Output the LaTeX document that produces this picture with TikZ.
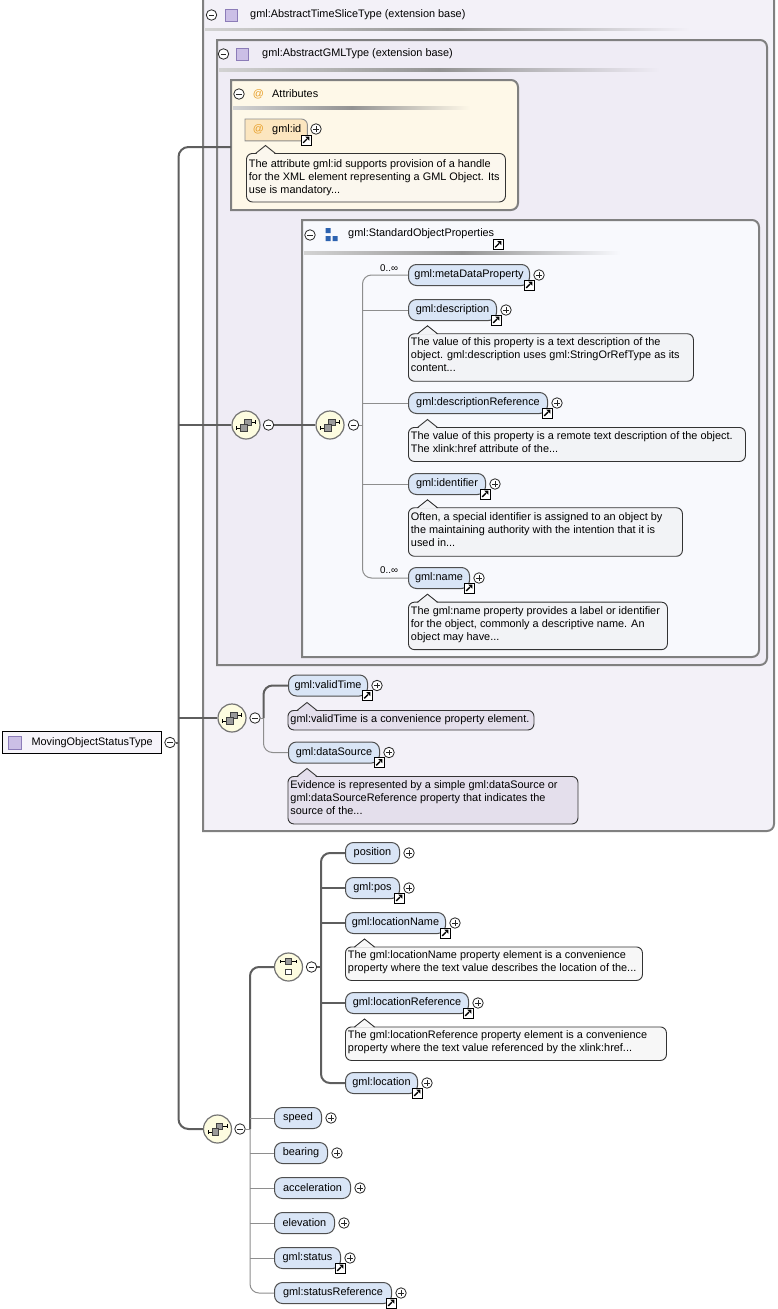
\documentclass[tikz,border=0pt]{standalone}
\usepackage{fontspec}
\setmainfont{Liberation Sans}
\usetikzlibrary{calc,positioning}

\definecolor{outerfill}{HTML}{F3F1F8}
\definecolor{innerfill}{HTML}{EFECF5}
\definecolor{attrfill}{HTML}{FEF8E8}
\definecolor{sopfill}{HTML}{F8F9FD}
\definecolor{elemfill}{HTML}{D9E5F6}
\definecolor{idfill}{HTML}{FCE6BF}
\definecolor{descA}{HTML}{FBF7EE}
\definecolor{descS}{HTML}{F2F3F6}
\definecolor{descO}{HTML}{E4DFEC}
\definecolor{descW}{HTML}{F7F7F7}
\definecolor{seqfill}{HTML}{FDFCE0}
\definecolor{boxline}{HTML}{808080}
\definecolor{trunkcol}{HTML}{5E5E5E}
\definecolor{twigcol}{HTML}{8E8E8E}
\definecolor{elemline}{HTML}{4F4F4F}
\definecolor{descline}{HTML}{333333}
\definecolor{typefill}{HTML}{CBBFE6}
\definecolor{typeline}{HTML}{8C7CB8}
\definecolor{atcol}{HTML}{E8A02A}
\definecolor{grpblue}{HTML}{2C62B0}
\definecolor{symgray}{HTML}{9A9A9A}
\definecolor{mainfill}{HTML}{F6F4FA}

\newcommand{\xsdfont}{\fontsize{10.9}{13}\selectfont}
\newcommand{\cardfont}{\fontsize{9.8}{11}\selectfont}

\tikzset{
  trunk/.style={draw=trunkcol, line width=2},
  twig/.style={draw=twigcol, line width=1},
  btn/.style={circle, draw=black!85, fill=white, minimum size=10.5, inner sep=0, line width=0.8},
  colbtn/.style={btn, path picture={\draw[line width=0.9] ([xshift=-2.8]path picture bounding box.center) -- ([xshift=2.8]path picture bounding box.center);}},
  expbtn/.style={btn, path picture={\draw[line width=0.9] ([xshift=-2.8]path picture bounding box.center) -- ([xshift=2.8]path picture bounding box.center) ([yshift=-2.8]path picture bounding box.center) -- ([yshift=2.8]path picture bounding box.center);}},
  elem/.style={draw=elemline, fill=elemfill, rounded corners=8, line width=1, minimum height=21, inner sep=0, anchor=west},
  desc/.style={draw=descline, rounded corners=6, line width=0.9, anchor=north west, inner xsep=2.5, inner ysep=0},
  lnkbox/.style={rectangle, draw=black, fill=white, minimum size=10, inner sep=0, line width=0.9},
  seqicon/.style={circle, draw=black!55, fill=seqfill, minimum size=28, inner sep=0, line width=1.2},
  typebox/.style={rectangle, draw=typeline, fill=typefill, minimum size=12, inner sep=0, line width=0.8},
  headtxt/.style={anchor=west, inner sep=0},
}

% box with rounded right corners: x1,y1,x2,y2,fill
\newcommand{\rbox}[5]{\filldraw[draw=boxline, line width=2, fill=#5] (#1,#2) -- ({#3-7},#2) .. controls ({#3-3.1},#2) and (#3,{#2+3.1}) .. (#3,{#2+7}) -- (#3,{#4-7}) .. controls (#3,{#4-3.1}) and ({#3-3.1},#4) .. ({#3-7},#4) -- (#1,#4) -- cycle;}

% description text of fixed width, lines never wrapped
\newcommand{\dtext}[3][2pt]{\makebox[#2pt][l]{\begin{tabular}{@{}l@{}}#3\\[#1]\end{tabular}}}

\newcommand{\elnode}[5]{%
  \node[elem, minimum width=#4] (#1) at (#2,#3) {#5};
  \node[expbtn] (#1-x) at ([xshift=9]#1.east) {};}

\newcommand{\lnkicon}[2]{%
  \node[lnkbox] (#1) at (#2) {};
  \begin{scope}[shift={(#1.center)}, x=1pt, y=1pt]
    \draw[line width=1.4] (-2.8,-2.8) -- (1,1);
    \fill (3.3,3.3) -- (-0.7,3.3) -- (3.3,-0.7) -- cycle;
  \end{scope}}
\newcommand{\lnk}[1]{\lnkicon{#1-l}{[xshift=-1,yshift=1]#1.south east}}

\newcommand{\notch}[2]{%
  \fill[#2] ([xshift=10,yshift=-1.2]#1.north west) -- ([xshift=19.5,yshift=7]#1.north west) -- ([xshift=29,yshift=-1.2]#1.north west) -- cycle;
  \draw[descline, line width=0.9] ([xshift=9.5,yshift=-0.5]#1.north west) -- ([xshift=19.5,yshift=7.5]#1.north west) -- ([xshift=29.5,yshift=-0.5]#1.north west);}

\newcommand{\seqsym}[1]{%
  \begin{scope}[shift={(#1.center)}, x=1pt, y=1pt, line width=0.7]
    \draw (-9.5,-3) -- (-4,-3) (-9.5,-4.6) -- (-9.5,-1.4);
    \draw (4,3) -- (9.5,3) (9.5,1.4) -- (9.5,4.6);
    \filldraw[fill=symgray, draw=black!75] (-1.5,-0.5) rectangle (5,6);
    \filldraw[fill=symgray, draw=black!75] (-5.5,-6) rectangle (1,0.5);
  \end{scope}}

\newcommand{\choicesym}[1]{%
  \begin{scope}[shift={(#1.center)}, x=1pt, y=1pt, line width=0.7]
    \draw (-8,5.5) -- (8,5.5) (-8,4) -- (-8,7) (8,4) -- (8,7);
    \filldraw[fill=symgray, draw=black!75] (-3,2.5) rectangle (3,8.5);
    \filldraw[fill=white, draw=black!75] (-2.8,-7.5) rectangle (2.8,-1.9);
  \end{scope}}

\begin{document}
\begin{tikzpicture}[x=1pt, y=-1pt, font=\xsdfont]
\useasboundingbox (0,0) rectangle (777,1309);
\clip (0,0) rectangle (777,1309);

% nested type boxes
\rbox{203}{-10}{774}{831}{outerfill}
\rbox{217}{40}{767}{665}{innerfill}
\rbox{231}{80}{518}{210}{attrfill}
\rbox{302}{220}{759}{657}{sopfill}

\shade[left color=boxline!35, right color=outerfill, middle color=boxline!85] (205,28) rectangle (690,30.5);
\shade[left color=boxline!35, right color=innerfill, middle color=boxline!85] (219,68.5) rectangle (660,71);
\shade[left color=boxline!35, right color=attrfill, middle color=boxline!85] (233,106.5) rectangle (470,109);
\shade[left color=boxline!35, right color=sopfill, middle color=boxline!85] (304,251.5) rectangle (620,254);

% headers
\node[colbtn] (tsl-x) at (211.5,15) {};
\node[typebox] (tsl-sq) at (231.5,15) {};
\node[headtxt] (tsl) at (250,15) {gml:AbstractTimeSliceType (extension base)};

\node[colbtn] (gml-x) at (223.5,54) {};
\node[typebox] (gml-sq) at (242.5,54) {};
\node[headtxt] (gml) at (262,54) {gml:AbstractGMLType (extension base)};

\node[colbtn] (att-x) at (239,94) {};
\node[inner sep=0, text=atcol] (att-at) at (258.5,94) {@};
\node[headtxt] (att) at (272,94) {Attributes};

% attribute gml:id
\node[inner sep=0, minimum width=62, minimum height=21.5, anchor=north west] (gid) at (245,119) {};
\filldraw[draw=black!45, fill=idfill, line width=0.9] (gid.south west) -- (gid.north west) -- ([xshift=-6]gid.north east) .. controls ([xshift=-2.7]gid.north east) and ([yshift=-2.7]gid.north east) .. ([yshift=-6]gid.north east) -- (gid.south east) -- cycle;
\node[inner sep=0, text=atcol] (gid-at) at (258.5,129.5) {@};
\node[headtxt] (gid-t) at (272,129.5) {gml:id};
\node[expbtn] (gid-x) at (316,129) {};
\lnkicon{gid-l}{306,140}
\node[desc, fill=descA, minimum height=48.5] (gid-d) at (246,153) {\dtext[0pt]{254}{The attribute gml:id supports provision of a handle\\for the XML element representing a GML Object. Its\\use is mandatory...}};
\notch{gid-d}{descA}

% gml:StandardObjectProperties
\node[colbtn] (sop-x) at (310,235) {};
\fill[grpblue] (325.5,228) rectangle (330.5,233) (325.5,236) rectangle (330.5,241) (332.5,236) rectangle (337.5,241);
\node[headtxt] (sop) at (348,234) {gml:StandardObjectProperties};
\lnkicon{sop-l}{498,244.5}

\node[headtxt, font=\cardfont] (meta-m) at (380,268) {0..∞};
\elnode{e-meta}{408}{275}{121}{gml:metaDataProperty} \lnk{e-meta}
\elnode{e-descr}{408}{310}{88}{gml:description} \lnk{e-descr}
\node[desc, fill=descS, minimum height=47.5] (d-descr) at (408,333.3) {\dtext[4pt]{280}{The value of this property is a text description of the\\object. gml:description uses gml:StringOrRefType as its\\content...}};
\notch{d-descr}{descS}
\elnode{e-dref}{408}{403}{139}{gml:descriptionReference} \lnk{e-dref}
\node[desc, fill=descS, minimum height=34] (d-dref) at (408,427) {\dtext{332}{The value of this property is a remote text description of the object.\\The xlink:href attribute of the...}};
\notch{d-dref}{descS}
\elnode{e-ident}{408}{484}{77}{gml:identifier} \lnk{e-ident}
\node[desc, fill=descS, minimum height=48.5] (d-ident) at (408,507.3) {\dtext{269}{Often, a special identifier is assigned to an object by\\the maintaining authority with the intention that it is\\used in...}};
\notch{d-ident}{descS}
\node[headtxt, font=\cardfont] (name-m) at (380,570) {0..∞};
\elnode{e-name}{408}{578}{61}{gml:name} \lnk{e-name}
\node[desc, fill=descS, minimum height=47.5] (d-name) at (408,601.7) {\dtext{254}{The gml:name property provides a label or identifier\\for the object, commonly a descriptive name. An\\object may have...}};
\notch{d-name}{descS}

% validTime / dataSource
\elnode{e-vtime}{288}{685.5}{79}{gml:validTime} \lnk{e-vtime}
\node[desc, fill=descO, minimum height=19.5] (d-vtime) at (287.5,710) {\dtext[0pt]{241}{gml:validTime is a convenience property element.}};
\notch{d-vtime}{descO}
\elnode{e-dsrc}{288}{752.5}{91}{gml:dataSource} \lnk{e-dsrc}
\node[desc, fill=descO, minimum height=47.5] (d-dsrc) at (287.5,776) {\dtext{285}{Evidence is represented by a simple gml:dataSource or\\gml:dataSourceReference property that indicates the\\source of the...}};
\notch{d-dsrc}{descO}

% choice of location
\elnode{e-posn}{345}{853}{54}{position}
\elnode{e-gpos}{345}{888}{54}{gml:pos} \lnk{e-gpos}
\elnode{e-lname}{345}{923}{100}{gml:locationName} \lnk{e-lname}
\node[desc, fill=descW, minimum height=33.5] (d-lname) at (345,946.5) {\dtext{292}{The gml:locationName property element is a convenience\\property where the text value describes the location of the...}};
\notch{d-lname}{descW}
\elnode{e-lref}{345}{1003}{123}{gml:locationReference} \lnk{e-lref}
\node[desc, fill=descW, minimum height=33.5] (d-lref) at (345,1026.5) {\dtext{316}{The gml:locationReference property element is a convenience\\property where the text value referenced by the xlink:href...}};
\notch{d-lref}{descW}
\elnode{e-loc}{345}{1083}{72}{gml:location} \lnk{e-loc}

% remaining sequence
\foreach \nm/\yy/\ww/\tx in {speed/1118/47/speed, bear/1153/53/bearing, accel/1188/76/acceleration, elev/1223/60/elevation, stat/1258/66/gml:status, sref/1293/117/gml:statusReference}
  {\elnode{e-\nm}{274}{\yy}{\ww}{\tx}}
\lnk{e-stat} \lnk{e-sref}

% compositors
\node[seqicon] (seq1) at (246,425) {}; \seqsym{seq1}
\node[colbtn] (seq1-x) at (268.5,425) {};
\node[seqicon] (seq2) at (330,425) {}; \seqsym{seq2}
\node[colbtn] (seq2-x) at (353.5,425) {};
\node[seqicon] (seq3) at (232,718) {}; \seqsym{seq3}
\node[colbtn] (seq3-x) at (255,718) {};
\node[seqicon] (chc) at (288.5,967) {}; \choicesym{chc}
\node[colbtn] (chc-x) at (311.5,967) {};
\node[seqicon] (seq4) at (217.5,1129) {}; \seqsym{seq4}
\node[colbtn] (seq4-x) at (240,1129) {};

\coordinate (bus2) at (362.5,425);
\coordinate (bus3) at (263.5,718);
\coordinate (bus5) at (321,967);
\coordinate (bus4) at (250,1129);

% root
\node[draw=black, line width=1.2, fill=mainfill, anchor=west, minimum width=159, minimum height=22, inner sep=0] (main) at (2,742.5) {\hspace*{20pt}MovingObjectStatusType};
\node[typebox, minimum size=13] (main-sq) at (15,742.5) {};
\node[colbtn] (main-x) at (170,742.5) {};
\coordinate (tk) at (178.5,742.5);
\coordinate (attrin) at (231,147);

% connectors
\draw[trunk, rounded corners=10] (attrin) -| (tk) |- (seq4.west);
\draw[trunk] (main-x.east) -- (tk);
\draw[trunk] (tk |- seq1.west) -- (seq1.west);
\draw[trunk] (tk |- seq3.west) -- (seq3.west);
\draw[trunk] (seq1-x.east) -- (seq2.west);

\draw[twig] (seq2-x.east) -- (bus2);
\draw[twig, rounded corners=9] (e-meta.west) -| (bus2) |- (e-name.west);
\foreach \e in {e-descr, e-dref, e-ident} \draw[twig] (bus2 |- \e.west) -- (\e.west);

\draw[twig] (seq3-x.east) -- (bus3);
\draw[trunk, rounded corners=9] (bus3) |- (e-vtime.west);
\draw[twig, rounded corners=9] (bus3) |- (e-dsrc.west);

\draw[twig] (seq4-x.east) -- (bus4);
\draw[trunk, rounded corners=9] (bus4) |- (chc.west);
\draw[twig, rounded corners=9] (bus4) |- (e-sref.west);
\foreach \e in {speed, bear, accel, elev, stat} \draw[twig] (bus4 |- e-\e.west) -- (e-\e.west);

\draw[trunk] (chc-x.east) -- (bus5);
\draw[trunk, rounded corners=9] (e-posn.west) -| (bus5) |- (e-loc.west);
\foreach \e in {e-gpos, e-lname, e-lref} \draw[trunk] (bus5 |- \e.west) -- (\e.west);

\end{tikzpicture}
\end{document}
